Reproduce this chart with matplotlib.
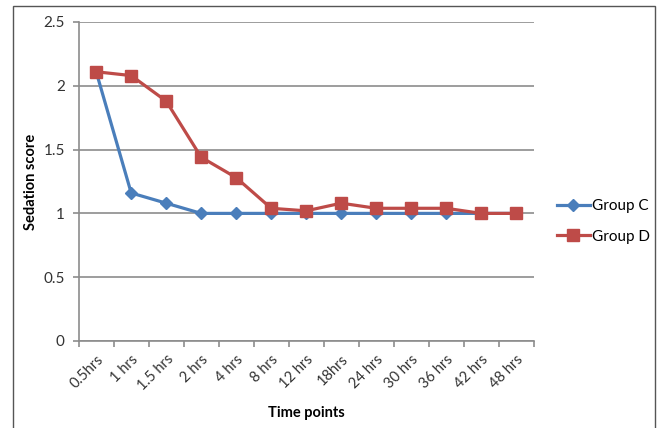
import matplotlib.pyplot as plt
from matplotlib.patches import Rectangle

plt.rcParams['font.family'] = ['Lato', 'DejaVu Sans']

# data
time_points = ["0.5hrs", "1 hrs", "1.5 hrs", "2 hrs", "4 hrs", "8 hrs", "12 hrs",
               "18hrs", "24 hrs", "30 hrs", "36 hrs", "42 hrs", "48 hrs"]
group_c = [2.11, 1.16, 1.08, 1.0, 1.0, 1.0, 1.0, 1.0, 1.0, 1.0, 1.0, 1.0, 1.0]
group_d = [2.11, 2.08, 1.88, 1.44, 1.28, 1.04, 1.02, 1.08, 1.04, 1.04, 1.04, 1.0, 1.0]

fig = plt.figure(figsize=(6.59, 4.28), dpi=100)
ax = fig.add_axes([0.1194, 0.2033, 0.6905, 0.7453])

# outer chart frame
fig.patches.append(Rectangle((13 / 659, -0.1), 642 / 659, 1.1 - 6 / 428,
                             transform=fig.transFigure, fill=False,
                             edgecolor='#555555', linewidth=1.0))

x = range(len(time_points))
ax.plot(x, group_c, color='#4A7EBB', linewidth=2.3, marker='D', markersize=6.5,
        label='Group C', zorder=3)
ax.plot(x, group_d, color='#BE4B48', linewidth=2.3, marker='s', markersize=8,
        label='Group D', zorder=4)

ax.set_xlim(-0.5, len(time_points) - 0.5)
ax.set_ylim(0, 2.5)
ax.set_yticks([0, 0.5, 1, 1.5, 2, 2.5])
ax.set_yticklabels(["0", "0.5", "1", "1.5", "2", "2.5"])
ax.yaxis.grid(True, color='#8c8c8c', linewidth=1.2)
ax.set_axisbelow(True)

# labels at category centres, tick marks at boundaries
ax.set_xticks(list(x))
ax.set_xticklabels(time_points, rotation=45, ha='right', rotation_mode='anchor')
ax.set_xticks([i - 0.5 for i in range(len(time_points) + 1)], minor=True)
ax.tick_params(axis='x', which='major', length=0, pad=8, labelsize=10.5, colors='#333333')
ax.tick_params(axis='x', which='minor', length=4, color='#8c8c8c', width=1.2)
ax.tick_params(axis='y', length=4, color='#8c8c8c', width=1.2, labelsize=11,
               labelcolor='#333333', pad=6)

for s in ['top', 'right']:
    ax.spines[s].set_visible(False)
for s in ['left', 'bottom']:
    ax.spines[s].set_color('#8c8c8c')
    ax.spines[s].set_linewidth(1.2)

ax.set_ylabel("Sedation score", fontsize=10.5, fontweight='bold', labelpad=4)
ax.set_xlabel("Time points", fontsize=10.5, fontweight='bold', labelpad=9)

ax.legend(loc='center left', bbox_to_anchor=(1.02, 0.375), frameon=False,
          fontsize=11, handlelength=2.2, handletextpad=0.1, labelspacing=1.1)

fig.savefig("out.png", dpi=100)
